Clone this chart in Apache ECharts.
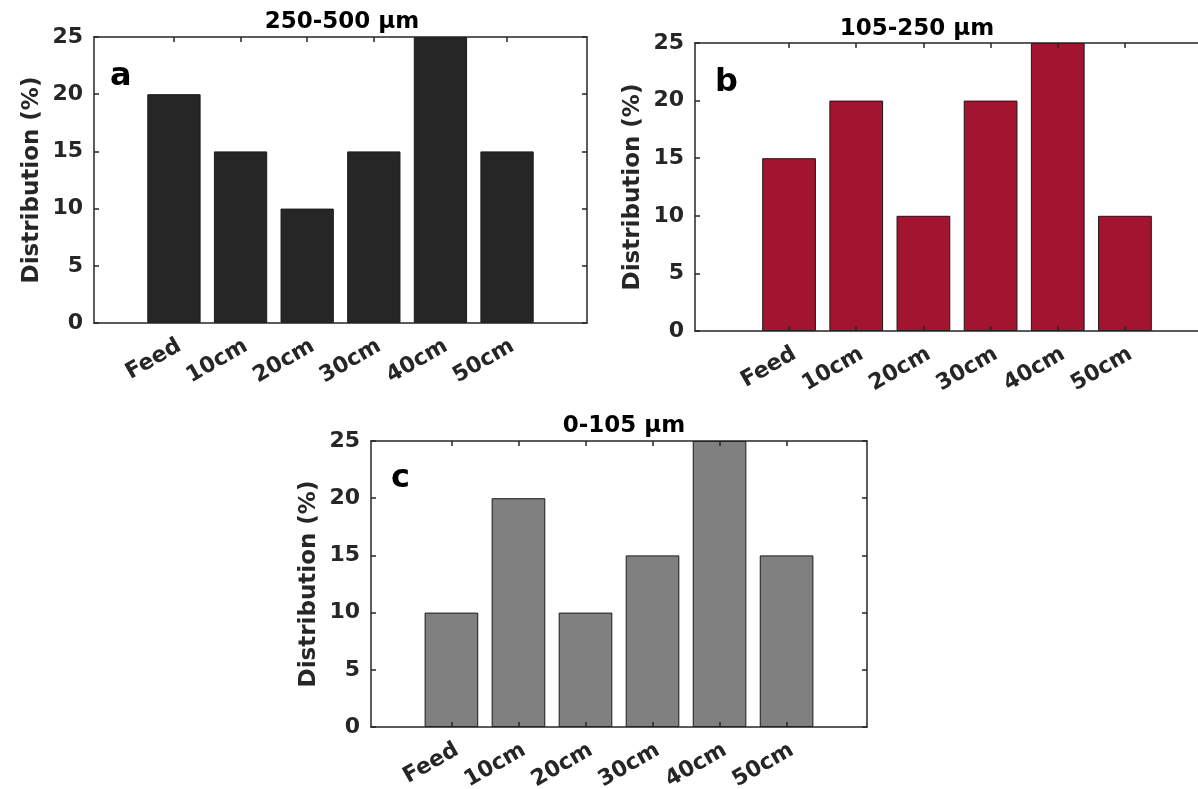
<!DOCTYPE html>
<html>
<head>
<meta charset="utf-8">
<script src="https://cdn.jsdelivr.net/npm/echarts@6/dist/echarts.min.js"></script>
<style>
  html, body { margin: 0; padding: 0; background: #fff; overflow: hidden; }
  /* canvas is a bit wider than the window: panel b runs off the right edge */
  #chart { width: 1240px; height: 789px; }
</style>
</head>
<body>
<div id="chart"></div>
<script>
// data
const categories = ['Feed', '10cm', '20cm', '30cm', '40cm', '50cm']
const positions = [1, 2, 3, 4, 5, 6]
const dist250to500 = [20, 15, 10, 15, 25, 15]
const dist105to250 = [15, 20, 10, 20, 25, 10]
const dist0to105 = [10, 20, 10, 15, 25, 15]
const yTicks = [0, 5, 10, 15, 20, 25]
const panelTitles = ['250-500 μm', '105-250 μm', '0-105 μm']
const panelLetters = ['a', 'b', 'c']

const ink = '#262626'
const font = 'DejaVu Sans'

// plot boxes (px) and x limits for each panel
const panels = [
  { box: { left: 94, top: 37, width: 493, height: 286 }, xlim: [-0.2, 7.2], values: dist250to500, color: '#262626', titleX: 337, titleY: 17, letterX: 105, letterY: 72 },
  { box: { left: 695, top: 43, width: 524, height: 288 }, xlim: [-0.4, 7.4], values: dist105to250, color: '#A2142F', titleX: 912, titleY: 24, letterX: 710, letterY: 78 },
  { box: { left: 371, top: 441, width: 496, height: 286 }, xlim: [-0.2, 7.2], values: dist0to105, color: '#808080', titleX: 619, titleY: 421, letterX: 386, letterY: 474 }
]

const chart = echarts.init(document.getElementById('chart'))

const grid = [], xAxis = [], yAxis = [], series = [], title = []

panels.forEach(function (p, i) {
  // keep the boxes where they are, labels may run close to the edge
  grid.push(Object.assign({ show: false, containLabel: false, outerBoundsMode: 'none' }, p.box))

  const xBase = {
    type: 'value', gridIndex: i, min: p.xlim[0], max: p.xlim[1], z: 10,
    splitLine: { show: false },
    axisLine: { show: true, onZero: false, lineStyle: { color: ink, width: 1.5 } },
    axisTick: { show: true, inside: true, length: 5, customValues: positions, lineStyle: { color: ink, width: 1.5 } }
  }
  xAxis.push(Object.assign({}, xBase, {
    position: 'bottom',
    axisLabel: {
      show: true, customValues: positions, rotate: 30, margin: 12,
      align: 'right', verticalAlign: 'top',
      fontFamily: font, fontWeight: 'bold', fontSize: 22, color: ink,
      formatter: function (v) { return categories[positions.indexOf(Math.round(v))] || '' }
    }
  }))
  xAxis.push(Object.assign({}, xBase, { position: 'top', axisLabel: { show: false } }))

  const yBase = {
    type: 'value', gridIndex: i, min: 0, max: 25, interval: 5, z: 10,
    splitLine: { show: false },
    axisLine: { show: true, onZero: false, lineStyle: { color: ink, width: 1.5 } },
    axisTick: { show: true, inside: true, length: 5, lineStyle: { color: ink, width: 1.5 } }
  }
  yAxis.push(Object.assign({}, yBase, {
    position: 'left',
    name: 'Distribution (%)', nameLocation: 'middle', nameRotate: 90, nameGap: 50,
    nameTextStyle: { fontFamily: font, fontWeight: 'bold', fontSize: 23, color: ink },
    axisLabel: {
      margin: 11, fontFamily: font, fontWeight: 'bold', fontSize: 22, color: ink,
      formatter: function (v) { return yTicks.indexOf(v) >= 0 ? String(v) : '' }
    }
  }))
  yAxis.push(Object.assign({}, yBase, { position: 'right', axisLabel: { show: false } }))

  const unit = p.box.width / (p.xlim[1] - p.xlim[0])
  series.push({
    type: 'bar',
    xAxisIndex: 2 * i, yAxisIndex: 2 * i,
    barWidth: 0.8 * unit,
    itemStyle: { color: p.color, borderColor: '#1a1a1a', borderWidth: 1 },
    data: positions.map(function (x, k) { return [x, p.values[k]] })
  })

  title.push({
    text: panelTitles[i], left: p.titleX, top: p.titleY, textAlign: 'center', textVerticalAlign: 'middle',
    textStyle: { fontFamily: font, fontWeight: 'bold', fontSize: 23, color: '#000' }
  })
  title.push({
    text: panelLetters[i], left: p.letterX, top: p.letterY, textVerticalAlign: 'middle',
    textStyle: { fontFamily: font, fontWeight: 'bold', fontSize: 32, color: '#000' }
  })
})

chart.setOption({
  animation: false,
  backgroundColor: '#fff',
  title: title,
  grid: grid,
  xAxis: xAxis,
  yAxis: yAxis,
  series: series
})
</script>
</body>
</html>
